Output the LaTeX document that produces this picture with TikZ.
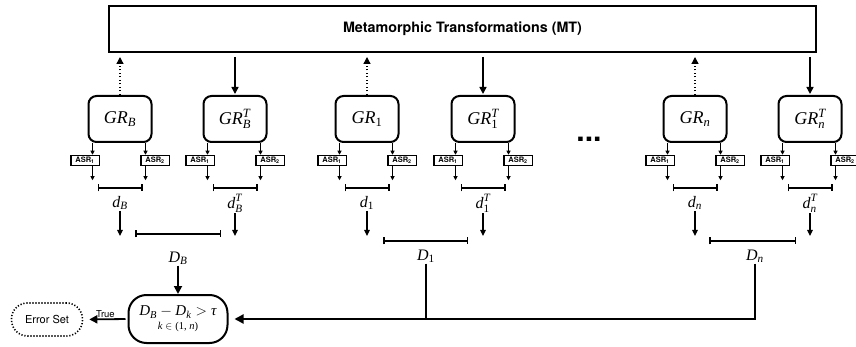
\RequirePackage{fix-cm}
\documentclass[tikz,border=0pt]{standalone}
\usepackage{amsmath}
\usepackage{fontspec}
\setsansfont{TeX Gyre Heros}
\newfontfamily\tms{Liberation Serif}
\newcommand\mv[2]{\ensuremath{\text{\tms\itshape #1}_{\text{\tms\itshape #2}}}}
\newcommand\mvt[2]{\ensuremath{\text{\tms\itshape #1}_{\text{\tms\itshape #2}}^{\text{\tms\itshape T}}}}
\usetikzlibrary{arrows.meta,calc}
\begin{document}
\begin{tikzpicture}[x=1pt,y=-1pt,
  mtbox/.style={draw,line width=2pt,minimum width=707pt,minimum height=46pt,inner sep=0pt,
    font=\sffamily\bfseries\fontsize{14.3}{16}\selectfont},
  grbox/.style={draw,line width=2pt,rounded corners=8pt,minimum width=63pt,minimum height=46pt,
    inner sep=0pt,font=\fontsize{18}{20}\selectfont},
  asrbox/.style={draw,line width=1.5pt,minimum width=28.5pt,minimum height=10pt,inner sep=0pt,
    font=\sffamily\bfseries\fontsize{7.5}{8}\selectfont},
  lab/.style={inner sep=1pt,font=\fontsize{16}{18}\selectfont},
  dotarrow/.style={line width=1.3pt,dash pattern=on 1.2pt off 2.3pt,-{Triangle[length=7pt,width=7pt]}},
  solidarrow/.style={line width=1.5pt,-{Triangle[length=7pt,width=7pt]}},
  tinyarrow/.style={line width=0.9pt,-{Triangle[length=4pt,width=4pt]}},
  darrow/.style={line width=1.2pt,-{Triangle[length=6pt,width=5.5pt]}},
  bracket/.style={line width=1.5pt,{Bar[width=7pt,line width=1.5pt]}-{Bar[width=7pt,line width=1.5pt]}},
  bigarrow/.style={line width=1.8pt,-{Triangle[length=8pt,width=8pt]}},
  thickline/.style={line width=2pt},
  decbox/.style={draw,line width=2pt,rounded corners=18pt,minimum width=99pt,minimum height=48pt,
    inner sep=1pt,align=center},
  errbox/.style={draw,line width=1.6pt,dash pattern=on 1.2pt off 1.8pt,rounded corners=16pt,
    minimum width=71pt,minimum height=33pt,inner sep=0pt,font=\sffamily\fontsize{11}{12}\selectfont},
  truelab/.style={inner sep=1pt,font=\sffamily\fontsize{9.5}{10}\selectfont}
]
\useasboundingbox (0,0) rectangle (856,347);

\node[mtbox] (MT) at (462.5,29) {Metamorphic Transformations (MT)};

\foreach \g/\cx/\glab/\dlab in {B/120/{\mv{GR}{B}}/{\mv{d}{B}},
    BT/235/{\mvt{GR}{B}}/{\mvt{d}{B}},
    1/367/{\mv{GR}{\upshape 1}}/{\mv{d}{\upshape 1}},
    1T/483/{\mvt{GR}{\upshape 1}}/{\mvt{d}{\upshape 1}},
    n/695/{\mv{GR}{n}}/{\mv{d}{n}},
    nT/810/{\mvt{GR}{n}}/{\mvt{d}{n}}}{
  \node[grbox] (gr\g) at (\cx,119) {\glab};
  \node[asrbox] (a\g1) at (\cx-35,160.5) {ASR\textsubscript{1}};
  \node[asrbox] (a\g2) at (\cx+35,160.5) {ASR\textsubscript{2}};
  \coordinate (s\g1) at ([xshift=5pt]gr\g.south west);
  \coordinate (s\g2) at ([xshift=-7pt]gr\g.south east);
  \draw[tinyarrow] (s\g1) -- (s\g1 |- a\g1.north);
  \draw[tinyarrow] (s\g2) -- (s\g2 |- a\g2.north);
  \draw[tinyarrow] (s\g1 |- a\g1.south) -- ++(0,14);
  \draw[tinyarrow] (s\g2 |- a\g2.south) -- ++(0,14);
  \draw[bracket] (\cx-22.5,188) -- (\cx+22.5,188);
  \node[lab] (d\g) at (\cx,203) {\dlab};
  \coordinate (dt\g) at (\cx,236);
  \draw[darrow] (d\g.south) -- (dt\g);
}

% links to MT
\foreach \g in {B,1,n}{
  \draw[dotarrow,shorten >=4pt] (gr\g.north) -- (gr\g.north |- MT.south);
}
\foreach \g in {BT,1T,nT}{
  \draw[solidarrow,shorten <=4pt,shorten >=1pt] (MT.south -| gr\g.north) -- (gr\g.north);
}

\node[font=\sffamily\bfseries\fontsize{30}{30}\selectfont,inner sep=0pt] (dots) at (589,139) {...};

% D level
\draw[bracket] (135,234) -- (221,234);
\node[lab] (DB) at (178,258) {\mv{D}{B}};
\draw[bracket] (383,241) -- (468,241);
\node[lab] (D1) at (426,256) {\mv{D}{\upshape 1}};
\draw[bracket] (709,241) -- (796,241);
\node[lab] (Dn) at (755,256) {\mv{D}{n}};

\node[decbox] (dec) at (178,319) {{\fontsize{15}{15}\selectfont
    \mv{D}{B}${}-{}$\mv{D}{k}$\;>\;${\tms\itshape τ}}\\[2pt]
  {\fontsize{10.5}{10.5}\selectfont {\tms\itshape k}$\;\in\;${\tms (1, \itshape n\upshape )}}};

\node[errbox] (err) at (47,319.5) {Error Set};

\draw[bigarrow] (DB.south) -- (dec.north);
\draw[thickline,-{Triangle[length=9pt,width=9pt]},shorten >=6pt] (Dn.south) |- (dec.east);
\draw[thickline] (D1.south) -- (D1.south |- dec.east);
\draw[bigarrow,shorten <=2pt,shorten >=6pt] (dec.west) -- (err.east)
  node[truelab,midway,above=0pt] {True};
\end{tikzpicture}
\end{document}
